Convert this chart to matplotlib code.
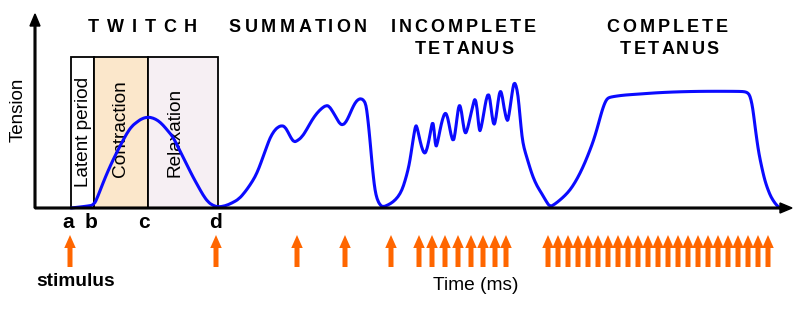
import matplotlib
matplotlib.use("Agg")
import matplotlib.pyplot as plt
from matplotlib.patches import Rectangle, PathPatch
from matplotlib.path import Path
from matplotlib.font_manager import FontProperties

plt.rcParams['font.family'] = ['Liberation Sans', 'DejaVu Sans']

# ---- data (time in ms-like px units, tension in arbitrary units) ----
twitch_t = [71, 80, 88, 94, 98, 103, 108, 113, 120, 127, 132, 137, 142, 148, 153, 158, 163,
            168, 173, 178, 183, 188, 193, 198, 203, 208, 213, 218]
twitch_v = [0, 1, 2, 3, 12, 25, 37, 48, 62, 75, 82, 86, 89.5, 91, 90, 87.5, 83,
            77, 71, 61, 51, 41, 31, 22, 13, 6, 2.5, 1]

summ_t = [225, 232, 239, 245, 250, 255, 259, 263, 267, 270, 274, 278, 282, 285, 288, 291, 294,
          297, 302, 307, 312, 317, 322, 326, 329, 333, 337, 340, 343, 346, 349, 352, 355, 358,
          361, 364, 366, 367.5, 369, 370.5, 372, 373.5, 375, 377, 380, 383]
summ_v = [2, 5, 9, 16, 23, 31, 40, 51, 62, 70, 77, 81, 82.5, 81, 76, 70, 66,
          67, 71, 79, 88, 95, 100, 102.5, 102, 96, 89, 84, 83, 86, 92, 99, 105, 108.5,
          109.5, 107.5, 103, 92, 78, 62, 45, 30, 18, 9, 3, 1]

incomp_t = [388, 393, 398, 402, 405, 408, 410, 412, 414, 415.7, 417, 419, 421.5, 424.3, 426.5,
            429, 431, 432.7, 434, 435.7, 437.5, 440, 442.5, 445, 447, 449, 451, 453.3, 455, 457,
            459, 461, 463, 465, 467, 470, 473, 475, 477, 479.3, 481, 484, 486, 488.3, 490, 492,
            494, 496, 498, 500, 502, 504, 507.3, 509, 511, 513, 514.3, 516, 518, 520, 522, 524,
            527, 530, 533, 537, 542, 546, 550]
incomp_v = [3, 6, 11, 18, 27, 38, 48, 61, 74, 83, 81, 72, 61, 54, 57,
            68, 79, 87, 79, 60, 65, 78, 89, 95.5, 93, 84, 73, 66, 74, 90,
            104, 100, 85, 74, 77, 90, 103, 110.5, 101, 76, 79, 96, 108, 115, 109, 92,
            81.5, 90, 106, 118, 114, 100, 85, 93, 107, 121, 125.5, 123, 113, 92, 71, 60,
            50, 40, 31, 22, 14, 7, 1]

comp_t = [555, 560, 565, 570, 575, 580, 585, 590, 593.5, 597, 600, 602, 604, 606, 608, 611, 617,
          625, 640, 656, 673, 690, 707, 725, 740, 745, 748, 750, 752, 753.5, 755, 757, 759,
          761.7, 764, 766, 768.3, 771, 775, 778, 780]
comp_v = [4, 8, 12.5, 18, 25.5, 34.7, 45.5, 58, 67.5, 79, 90, 97, 103, 107.5, 110, 111, 112,
          113, 114, 115.2, 116, 116.5, 116.7, 116.7, 116.6, 116.3, 115, 112, 104, 94, 82, 67, 54,
          41, 31, 24, 17.5, 11, 4.7, 1.5, 0]

stim_times = [70, 216, 297, 345, 391,
              419, 432, 445, 458, 471, 483, 495, 506,
              548, 558, 568, 578, 588, 598, 608, 618, 628, 638, 648, 658, 668, 678, 688, 698,
              708, 718, 728, 738, 748, 758, 768]

phase_labels = ['Latent period', 'Contraction', 'Relaxation']
phase_edges = [71, 94, 148, 218]
phase_colors = ['#ffffff', '#fbe7cb', '#f6eff3']
point_labels = ['a', 'b', 'c', 'd']
point_x = [68, 91, 144, 215]

titles = [('TWITCH', 142.5, 181, 7.8), ('SUMMATION', 298, 181, 3.5),
          ('INCOMPLETE', 463.5, 181, 3), ('TETANUS', 464, 159, 2.5),
          ('COMPLETE', 667.5, 181, 3), ('TETANUS', 669.5, 159, 2.5)]

# ---- figure ----
fig = plt.figure(figsize=(8, 3.1), dpi=100)
ax = fig.add_axes([0, 0, 1, 1])
ax.set_xlim(0, 800)
ax.set_ylim(-102, 208)
ax.axis('off')

# phase boxes
box_top = 151
for i, lab in enumerate(phase_labels):
    x0, x1 = phase_edges[i], phase_edges[i + 1]
    ax.add_patch(Rectangle((x0, 0), x1 - x0, box_top, facecolor=phase_colors[i],
                           edgecolor='black', lw=1.3, zorder=1))
ax.text(83, 76, phase_labels[0], rotation=90, ha='center', va='center', fontsize=13.7, zorder=2)
ax.text(120.5, 79, phase_labels[1], rotation=90, ha='center', va='center', fontsize=13.7, zorder=2)
ax.text(175, 76, phase_labels[2], rotation=90, ha='center', va='center', fontsize=13.7, zorder=2)

# tension curve, drawn as a smooth quadratic-Bezier path through the read points
curve_t = twitch_t + summ_t + incomp_t + comp_t
curve_v = twitch_v + summ_v + incomp_v + comp_v
pts = list(zip(curve_t, curve_v))
verts = [pts[0]]
codes = [Path.MOVETO]
for i in range(1, len(pts) - 1):
    mid = ((pts[i][0] + pts[i + 1][0]) / 2, (pts[i][1] + pts[i + 1][1]) / 2)
    verts += [pts[i], mid]
    codes += [Path.CURVE3, Path.CURVE3]
verts.append(pts[-1])
codes.append(Path.LINETO)
ax.add_patch(PathPatch(Path(verts, codes), facecolor='none', edgecolor='#0b0bff',
                       lw=2.2, joinstyle='round', capstyle='round', zorder=4))

# axes arrows
ax.arrow(35, 0, 0, 194, width=1.7, head_width=10, head_length=12,
         length_includes_head=True, color='black', zorder=5)
ax.arrow(35, 0, 757, 0, width=1.7, head_width=10, head_length=12,
         length_includes_head=True, color='black', zorder=5)

ax.text(18, 98.5, 'Tension', rotation=90, ha='center', va='center', fontsize=13.5)
ax.text(476, -78, 'Time (ms)', ha='center', va='center', fontsize=13.8)
ax.text(36, -74, 'stimulus', ha='left', va='center', fontsize=13.8, fontweight='bold')

for lab, x in zip(point_labels, point_x):
    ax.text(x, -14, lab, ha='center', va='center', fontsize=15, fontweight='bold')

# stimulus arrows
for x in stim_times:
    ax.arrow(x, -59, 0, 32, width=5, head_width=11.5, head_length=13,
             length_includes_head=True, color='#ff6600', lw=0, zorder=3)

# titles with letter spacing
fig.canvas.draw()
renderer = fig.canvas.get_renderer()
prop = FontProperties(family=['Liberation Sans', 'DejaVu Sans'], weight='bold', size=13)


def tw(s):
    if not s:
        return 0.0
    w, h, d = renderer.get_text_width_height_descent(s, prop, ismath=False)
    return w


for s, cx, cy, track in titles:
    total = tw(s) + track * (len(s) - 1)
    x0 = cx - total / 2
    for i, ch in enumerate(s):
        if ch == ' ':
            continue
        xi = x0 + tw(s[:i]) + track * i
        ax.text(xi, cy, ch, ha='left', va='center', fontproperties=prop)

fig.savefig('out.png', dpi=100)
